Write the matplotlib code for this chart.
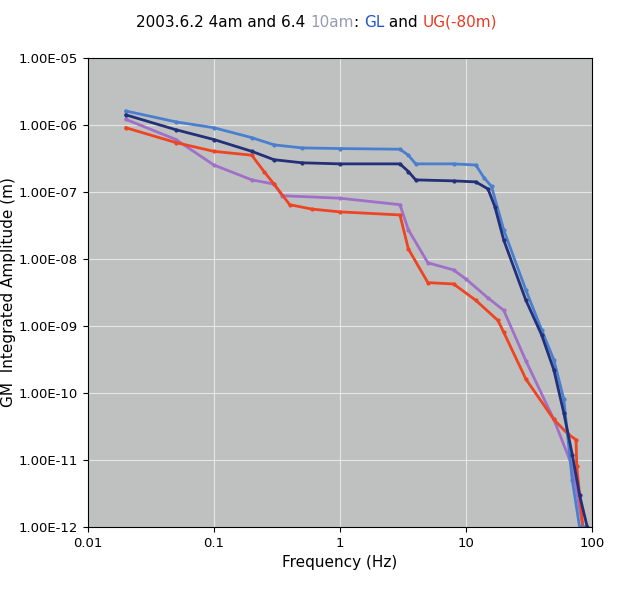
import matplotlib.pyplot as plt

# GL 10am (light blue)
gl10_f = [0.02, 0.05, 0.1, 0.2, 0.3, 0.5, 1, 3, 3.5, 4, 8, 12, 14, 16, 20, 30, 40, 50, 60, 70, 80, 90]
gl10_a = [1.6e-6, 1.1e-6, 9e-7, 6.4e-7, 5e-7, 4.5e-7, 4.4e-7, 4.3e-7, 3.5e-7, 2.6e-7, 2.6e-7, 2.5e-7,
          1.6e-7, 1.2e-7, 2.7e-8, 3.4e-9, 8.7e-10, 3.1e-10, 8e-11, 5e-12, 1e-12, 1e-12]
# GL 4am (navy)
gl4_f = [0.02, 0.05, 0.1, 0.2, 0.3, 0.5, 1, 3, 3.5, 4, 8, 12, 15, 17, 20, 30, 40, 50, 60, 70, 80, 92]
gl4_a = [1.4e-6, 8.4e-7, 6e-7, 4e-7, 3e-7, 2.7e-7, 2.6e-7, 2.6e-7, 2e-7, 1.5e-7, 1.45e-7, 1.4e-7,
         1.1e-7, 6e-8, 1.9e-8, 2.4e-9, 7.3e-10, 2.2e-10, 5e-11, 1.2e-11, 3e-12, 1e-12]
# UG 10am (purple)
ug10_f = [0.02, 0.05, 0.1, 0.2, 0.3, 0.35, 1, 3, 3.5, 5, 8, 10, 15, 20, 30, 50, 70, 85]
ug10_a = [1.2e-6, 6e-7, 2.5e-7, 1.5e-7, 1.3e-7, 8.7e-8, 8e-8, 6.4e-8, 2.7e-8, 8.7e-9, 6.8e-9,
          5e-9, 2.6e-9, 1.7e-9, 3e-10, 4e-11, 8e-12, 1e-12]
# UG 4am (red)
ug4_f = [0.02, 0.05, 0.1, 0.2, 0.25, 0.3, 0.4, 0.6, 1, 3, 3.5, 5, 8, 12, 18, 20, 30, 50, 65, 75, 76, 85]
ug4_a = [9e-7, 5.4e-7, 4e-7, 3.5e-7, 2e-7, 1.3e-7, 6.4e-8, 5.5e-8, 5e-8, 4.5e-8, 1.4e-8, 4.4e-9,
         4.2e-9, 2.4e-9, 1.2e-9, 8e-10, 1.6e-10, 4e-11, 2.4e-11, 2e-11, 8e-12, 1e-12]

yticks = [1e-12, 1e-11, 1e-10, 1e-9, 1e-8, 1e-7, 1e-6, 1e-5]
ylabels = ["1.00E-12", "1.00E-11", "1.00E-10", "1.00E-09", "1.00E-08", "1.00E-07", "1.00E-06", "1.00E-05"]
xticks = [0.01, 0.1, 1, 10, 100]
xlabels = ["0.01", "0.1", "1", "10", "100"]

fig = plt.figure(figsize=(6.19, 5.94), dpi=100)
ax = fig.add_axes([0.142, 0.113, 0.814, 0.79])
ax.set_facecolor("#bfc1c1")
ax.plot(ug10_f, ug10_a, color="#a070c8", lw=2, marker="o", ms=2)
ax.plot(ug4_f, ug4_a, color="#ee4422", lw=2, marker="o", ms=2)
ax.plot(gl10_f, gl10_a, color="#4a7fd0", lw=2, marker="o", ms=2)
ax.plot(gl4_f, gl4_a, color="#22307a", lw=2, marker="o", ms=2)
ax.set_xscale("log")
ax.set_yscale("log")
ax.set_xlim(0.01, 100)
ax.set_ylim(1e-12, 1e-5)
ax.set_xticks(xticks, xlabels)
ax.set_yticks(yticks, ylabels)
ax.minorticks_off()
ax.tick_params(labelsize=9.5)
ax.grid(True, color="#e6e6e6", lw=0.8)
ax.set_xlabel("Frequency (Hz)", fontsize=11)
ax.set_ylabel("GM  Integrated Amplitude (m)", fontsize=11, labelpad=2)

parts = [("2003.6.2 4am and 6.4 ", "black"), ("10am", "#9a9ab8"), (": ", "black"),
         ("GL", "#2255cc"), (" and ", "black"), ("UG(-80m)", "#e83a20")]
x = 0.22
for txt, c in parts:
    t = fig.text(x, 0.955, txt, color=c, fontsize=11)
    fig.canvas.draw()
    bb = t.get_window_extent()
    x += bb.width / fig.bbox.width

fig.savefig("out.png")
